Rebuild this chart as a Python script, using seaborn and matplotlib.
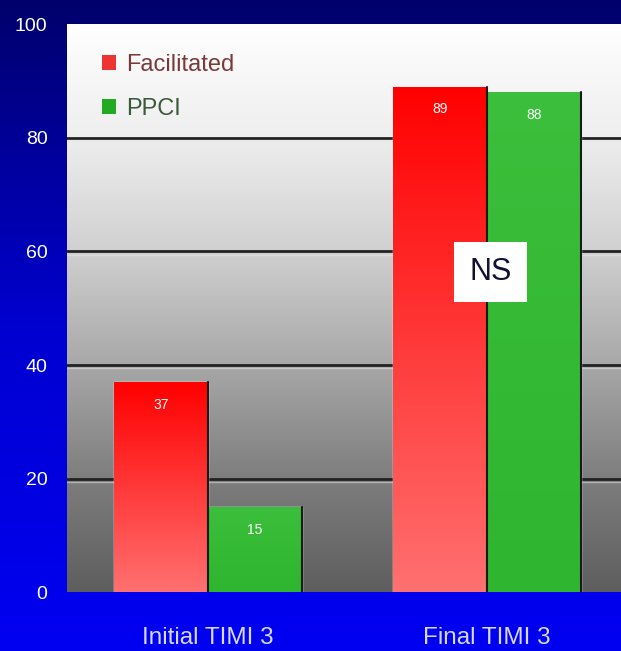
import numpy as np
import pandas as pd
import matplotlib
matplotlib.use("Agg")
import matplotlib.pyplot as plt
import seaborn as sns
from matplotlib.colors import LinearSegmentedColormap
from matplotlib.patches import Patch

categories = ["Initial TIMI 3", "Final TIMI 3"]
series = ["Facilitated", "PPCI"]
facilitated = [37, 89]
ppci = [15, 88]
yticks = [0, 20, 40, 60, 80, 100]

df = pd.DataFrame({
    "cat": categories * 2,
    "group": [series[0]] * 2 + [series[1]] * 2,
    "val": facilitated + ppci,
})

sns.set_theme(style="white")
plt.rcParams['font.family'] = ['Liberation Sans', 'DejaVu Sans']

fig = plt.figure(figsize=(6.21, 6.51), dpi=100)

# background gradient (bright blue bottom -> dark navy top)
bg = fig.add_axes([0, 0, 1, 1], zorder=-10)
bgcm = LinearSegmentedColormap.from_list("bg", ["#0000f2", "#0000d0", "#00006c"])
bg.imshow(np.linspace(0, 1, 256).reshape(-1, 1), aspect="auto", cmap=bgcm,
          extent=[0, 1, 0, 1], origin="lower")
bg.axis("off")

ax = fig.add_axes([0.108, 0.090, 0.892, 0.873])
ax.set_facecolor("none")

sns.barplot(data=df, x="cat", y="val", hue="group", hue_order=series,
            palette=["#ff2020", "#33bb33"], width=0.672, saturation=1,
            ax=ax, legend=False, zorder=3)

ax.set_xlim(-0.505, 1.48)
ax.set_ylim(0, 100)

# plot area gradient
pcm = LinearSegmentedColormap.from_list(
    "pa", [(0, "#5e5e5e"), (0.2, "#7e7e7e"), (0.4, "#a8a8a8"),
           (0.6, "#d0d0d0"), (0.8, "#eeeeee"), (1.0, "#ffffff")])
ax.imshow(np.linspace(0, 1, 256).reshape(-1, 1), aspect="auto", cmap=pcm,
          extent=[-0.505, 1.48, 0, 100], origin="lower", zorder=0)

for y in yticks[1:-1]:
    ax.axhline(y, color="#222222", lw=2.0, zorder=1)
    ax.axhline(y - 0.6, color="#e8e8e8", lw=1.0, alpha=0.5, zorder=1)

# gradient fills on bars
redcm = LinearSegmentedColormap.from_list("r", ["#ff7070", "#ff0000"])
grncm = LinearSegmentedColormap.from_list("g", ["#2fb52f", "#3cbf3c"])
bars = [p for p in ax.patches if p.get_height() > 0]
for i, p in enumerate(bars):
    x0, w, h = p.get_x(), p.get_width(), p.get_height()
    cm = redcm if i < 2 else grncm
    im = ax.imshow(np.linspace(0, 1, 128).reshape(-1, 1), aspect="auto", cmap=cm,
                   extent=[x0, x0 + w, 0, h], origin="lower", zorder=4)
    im.set_clip_path(p)
    ax.plot([x0 + w, x0 + w], [0, h], color="#1a1a1a", lw=1.5, zorder=5)
    ax.text(x0 + w / 2, h - 4, f"{int(h)}", color="white", ha="center", va="center",
            fontsize=10, zorder=6)

ax.set_xlim(-0.505, 1.48)
ax.set_ylim(0, 100)

# NS box
ax.text(1.014, 56.4, "NS", fontsize=22, color="#111133", ha="center", va="center",
        zorder=7, bbox=dict(boxstyle="square,pad=0.5", fc="white", ec="none"))

# legend
handles = [Patch(facecolor="#ee3333", edgecolor="none"),
           Patch(facecolor="#22aa22", edgecolor="none")]
leg = ax.legend(handles, series, loc="upper left", bbox_to_anchor=(0.025, 0.985),
                frameon=False, fontsize=17, handlelength=0.6, handleheight=0.6,
                handletextpad=0.4, labelspacing=0.95)
leg.get_texts()[0].set_color("#7a3a3a")
leg.get_texts()[1].set_color("#3a5a3a")
leg.set_zorder(8)

ax.set_yticks(yticks)
ax.set_yticklabels([str(t) for t in yticks], color="white", fontsize=14)
ax.tick_params(axis="y", length=0, pad=14)
ax.tick_params(axis="x", length=0, pad=25, labelsize=17.5, labelcolor="#d8d8ff")
ax.set_xlabel("")
ax.set_ylabel("")
for s in ax.spines.values():
    s.set_visible(False)
ax.grid(False)

fig.savefig("out.png", dpi=100)
